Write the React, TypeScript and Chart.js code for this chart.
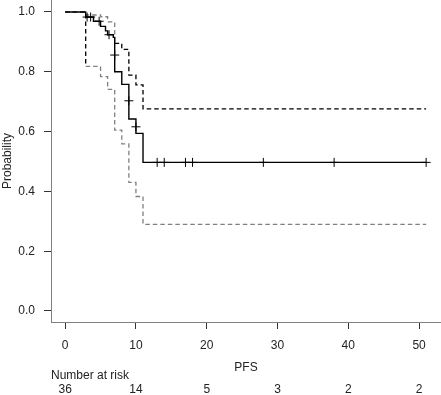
import { useEffect, useRef } from "react";
import { Chart, registerables } from "chart.js";

Chart.register(...registerables);

// Kaplan-Meier estimate (time at which each level starts, survival level)
const kmTime = [0, 2.9, 4.0, 5.0, 5.7, 6.0, 6.8, 7.0, 8.0, 9.0, 10.0, 11.0, 51.0];
const kmSurv = [1.0, 0.983, 0.969, 0.952, 0.937, 0.924, 0.915, 0.8, 0.758, 0.642, 0.594, 0.497, 0.497];

// Upper confidence limit
const upperTime = [0, 2.9, 5.0, 6.0, 7.0, 8.0, 9.0, 10.0, 11.0, 51.0];
const upperVal = [1.0, 0.99, 0.984, 0.967, 0.895, 0.875, 0.789, 0.756, 0.676, 0.676];

// Lower confidence limit
const lowerTime = [0, 2.9, 5.0, 6.0, 7.0, 8.0, 9.0, 10.0, 11.0, 51.0];
const lowerVal = [1.0, 0.818, 0.784, 0.741, 0.605, 0.559, 0.43, 0.383, 0.29, 0.29];

// Censoring marks
const censorTime = [3.1, 3.6, 4.8, 6.2, 7.0, 9.0, 10.0, 13, 14, 17, 18, 28, 38, 51];
const censorVal = [0.983, 0.983, 0.969, 0.924, 0.856, 0.703, 0.616, 0.497, 0.497, 0.497, 0.497, 0.497, 0.497, 0.497];

// Axis ticks and risk table
const xTicks = [0, 10, 20, 30, 40, 50];
const yTicks = [0, 0.2, 0.4, 0.6, 0.8, 1.0];
const riskTimes = [0, 10, 20, 30, 40, 50];
const riskCounts = [36, 14, 5, 3, 2, 2];

const FONT = '"Liberation Sans", Arial, Helvetica, sans-serif';
const TEXT = "#222222";
const AXIS = "#808080";
const GRAY = "#808080";

export default function App() {
  const ref = useRef<HTMLCanvasElement>(null);

  useEffect(() => {
    if (!ref.current) return;

    const textPlugin = {
      id: "kmText",
      afterDraw(chart: any) {
        const { ctx, chartArea } = chart;
        const x = chart.scales.x;
        ctx.save();
        ctx.fillStyle = TEXT;
        ctx.font = `12px ${FONT}`;
        ctx.textBaseline = "middle";
        ctx.textAlign = "center";
        ctx.fillText("PFS", (chartArea.left + chartArea.right) / 2, 368);
        ctx.textAlign = "left";
        ctx.fillText("Number at risk", 51, 376);
        ctx.textAlign = "center";
        riskTimes.forEach((t, i) => {
          ctx.fillText(String(riskCounts[i]), x.getPixelForValue(t), 390);
        });
        ctx.translate(8, (chartArea.top + chartArea.bottom) / 2);
        ctx.rotate(-Math.PI / 2);
        ctx.fillText("Probability", 0, 0);
        ctx.restore();
      },
    };

    const chart = new Chart(ref.current, {
      type: "line",
      data: {
        datasets: [
          {
            type: "scatter",
            data: censorTime.map((t, i) => ({ x: t, y: censorVal[i] })),
            pointStyle: "cross",
            pointRadius: 4.5,
            pointBorderColor: "#000",
            pointBorderWidth: 1,
            showLine: false,
          } as any,
          {
            data: kmTime.map((t, i) => ({ x: t, y: kmSurv[i] })),
            stepped: "before",
            borderColor: "#000",
            borderWidth: 1.4,
            pointRadius: 0,
            fill: false,
          },
          {
            data: upperTime.map((t, i) => ({ x: t, y: upperVal[i] })),
            stepped: "before",
            borderColor: "#000",
            borderWidth: 1.3,
            borderDash: [4.5, 3],
            pointRadius: 0,
            fill: false,
            segment: {
              borderColor: (c: any) => (c.p0DataIndex <= 3 ? GRAY : "#000"),
            },
          },
          {
            data: lowerTime.map((t, i) => ({ x: t, y: lowerVal[i] })),
            stepped: "before",
            borderColor: GRAY,
            borderWidth: 1.3,
            borderDash: [4.5, 3],
            pointRadius: 0,
            fill: false,
            segment: {
              borderColor: (c: any) => (c.p0DataIndex === 0 ? "#000" : GRAY),
            },
          },
        ],
      },
      options: {
        animation: false,
        responsive: false,
        devicePixelRatio: 1,
        events: [],
        layout: { autoPadding: false, padding: 0 },
        plugins: {
          legend: { display: false },
          tooltip: { enabled: false },
        },
        scales: {
          x: {
            type: "linear",
            min: -2.0,
            max: 53.1,
            afterBuildTicks: (s: any) => {
              s.ticks = xTicks.map((v) => ({ value: v }));
            },
            afterFit: (s: any) => {
              s.height = 73;
              s.paddingLeft = 0;
              s.paddingRight = 0;
            },
            grid: {
              drawOnChartArea: false,
              drawTicks: true,
              tickLength: 7,
              color: "#333",
              lineWidth: 1,
            },
            border: { display: true, color: AXIS, width: 1 },
            ticks: {
              color: TEXT,
              font: { family: FONT, size: 12 },
              padding: 9,
              maxRotation: 0,
              autoSkip: false,
              callback: (v: any) => String(v),
            },
          },
          y: {
            type: "linear",
            min: -0.0368,
            max: 1.0401,
            afterBuildTicks: (s: any) => {
              s.ticks = yTicks.map((v) => ({ value: v }));
            },
            afterFit: (s: any) => {
              s.width = 51;
              s.paddingTop = 0;
              s.paddingBottom = 0;
            },
            grid: {
              drawOnChartArea: false,
              drawTicks: true,
              tickLength: 7,
              color: "#333",
              lineWidth: 1,
            },
            border: { display: true, color: AXIS, width: 1 },
            ticks: {
              color: TEXT,
              font: { family: FONT, size: 12 },
              padding: 9,
              autoSkip: false,
              callback: (v: any) => Number(v).toFixed(1),
            },
          },
        },
      },
      plugins: [textPlugin],
    } as any);

    return () => chart.destroy();
  }, []);

  return (
    <div style={{ position: "absolute", left: 0, top: 0, width: 441, height: 395, background: "#fff" }}>
      <canvas ref={ref} width={441} height={395} style={{ display: "block" }} />
    </div>
  );
}
